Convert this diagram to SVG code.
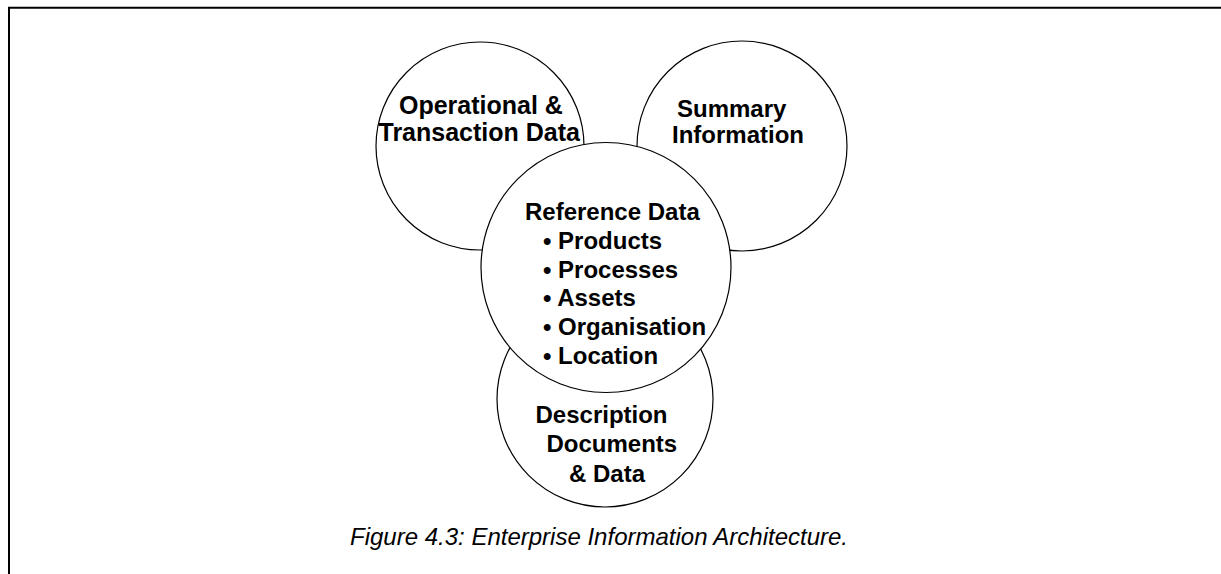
<svg xmlns="http://www.w3.org/2000/svg" width="1221" height="574" viewBox="0 0 1221 574">
<style>
.c{fill:#fff;stroke:#000;stroke-width:1.2}
.t{font-family:"Liberation Sans",Arial,sans-serif;font-weight:bold;font-size:24px;fill:#000}
.t2{font-size:25px}
.cap{font-family:"Liberation Sans",Arial,sans-serif;font-style:italic;font-size:24px;fill:#000}
</style>
<rect width="1221" height="574" fill="#fff"/>
<path d="M9,574 V7.7 H1221" fill="none" stroke="#000" stroke-width="2"/>
<g id="operational"><circle class="c" cx="480" cy="146" r="104"/></g>
<g id="summary"><circle class="c" cx="742" cy="146" r="105"/></g>
<g id="description"><circle class="c" cx="605" cy="399" r="108"/></g>
<g id="reference"><circle class="c" cx="606" cy="267.5" r="125"/></g>
<g id="connectors"></g>
<g id="labels">
<text class="t t2" x="399" y="114">Operational &amp;</text>
<text class="t t2" x="378.5" y="140.5">Transaction Data</text>
<text class="t" x="677" y="116.7">Summary</text>
<text class="t" x="672" y="143.3">Information</text>
<text class="t" x="525" y="220">Reference Data</text>
<text class="t" x="543" y="248.8">• Products</text>
<text class="t" x="543" y="277.6">• Processes</text>
<text class="t" x="543" y="306.4">• Assets</text>
<text class="t" x="543" y="335.2">• Organisation</text>
<text class="t" x="543" y="364">• Location</text>
<text class="t" x="535.5" y="422.5">Description</text>
<text class="t" x="546.5" y="452">Documents</text>
<text class="t" x="569" y="481.5">&amp; Data</text>
</g>
<text class="cap" x="350" y="545">Figure 4.3: Enterprise Information Architecture.</text>
</svg>
